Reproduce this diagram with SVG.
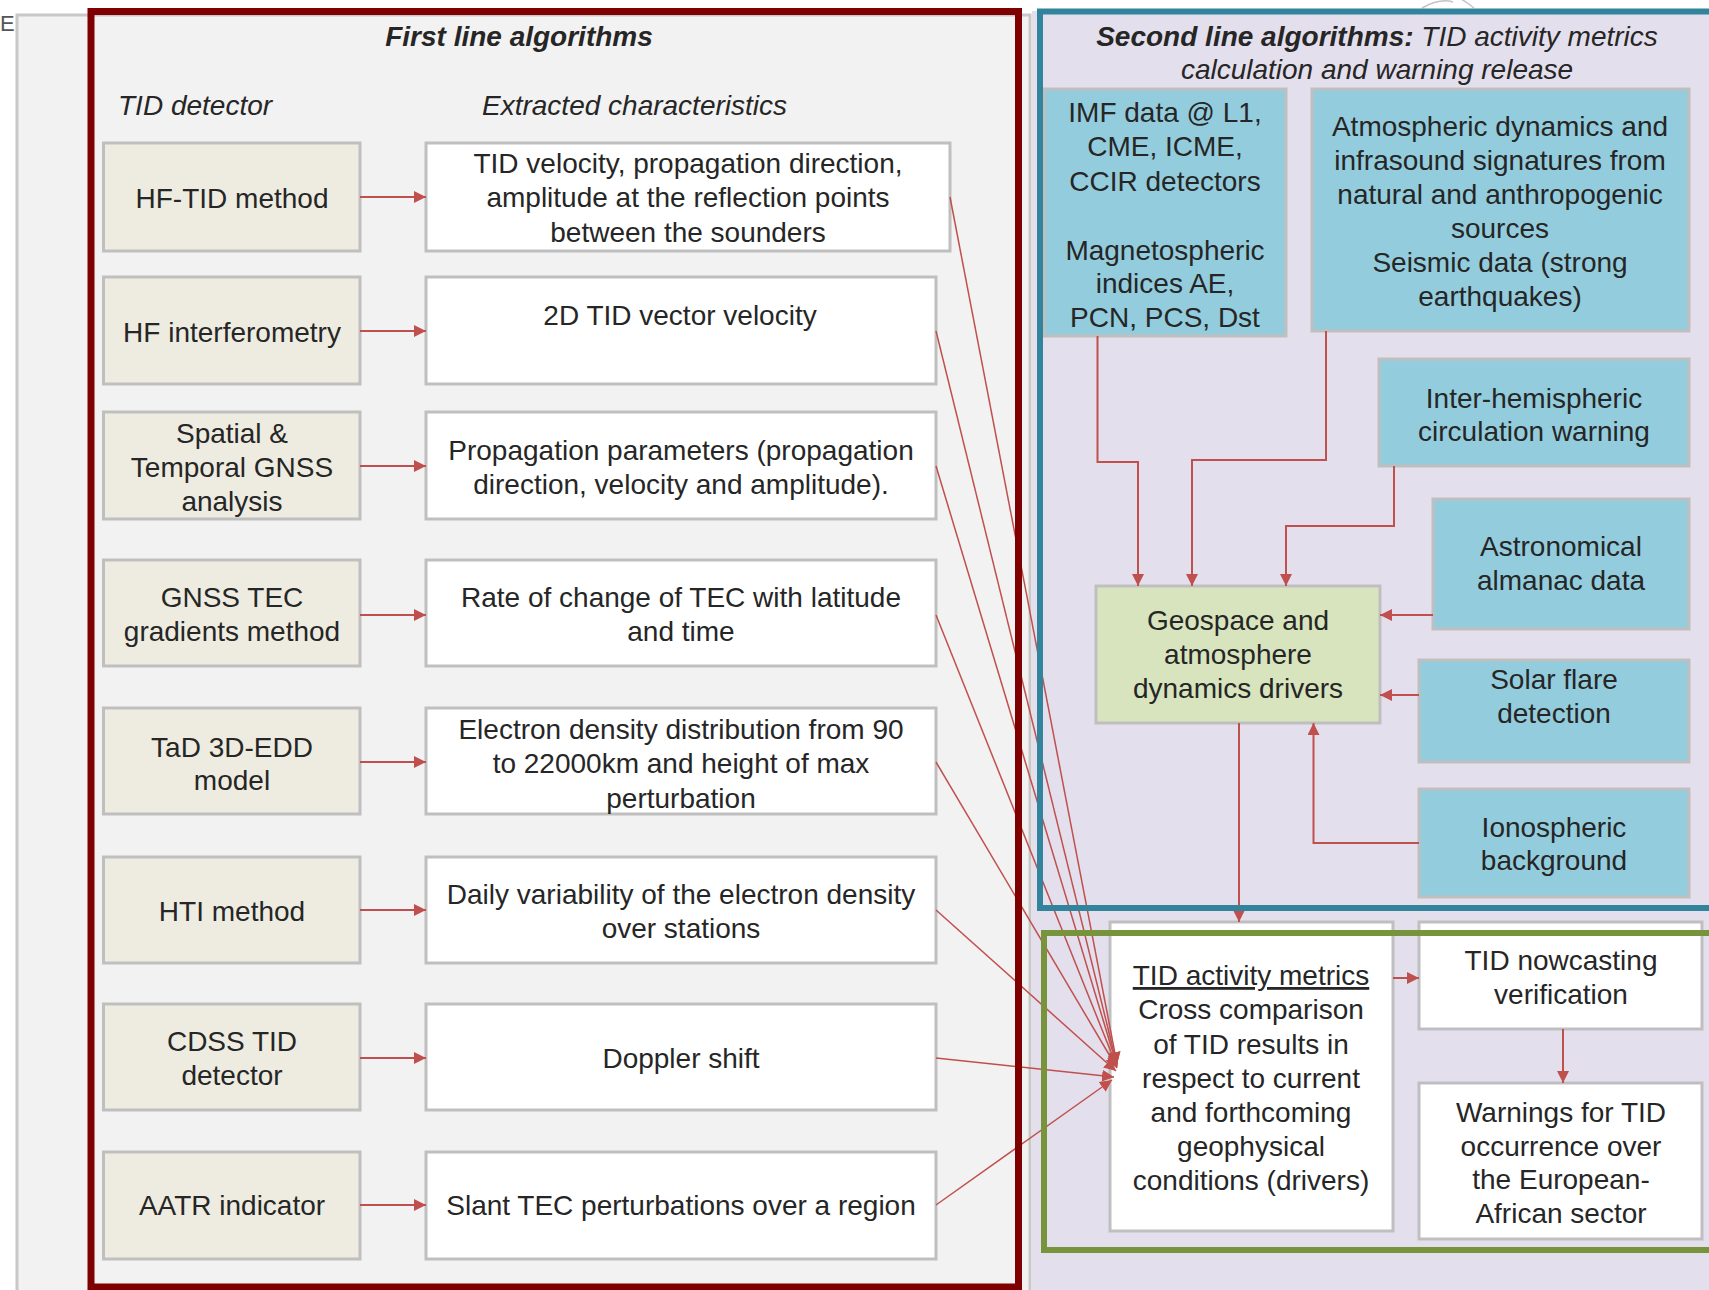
<svg xmlns="http://www.w3.org/2000/svg" width="1709" height="1290" viewBox="0 0 1709 1290">
<style>
text{font-family:"Liberation Sans",Arial,sans-serif;font-size:28px;fill:#262626;text-anchor:middle}
.it{font-style:italic}
.bi{font-style:italic;font-weight:bold}
.beige{fill:#eeece1;stroke:#bfbfbf;stroke-width:3}
.white{fill:#ffffff;stroke:#bfbfbf;stroke-width:3}
.blue{fill:#93cddd;stroke:#bfbfbf;stroke-width:3}
.green{fill:#d7e4bd;stroke:#bfbfbf;stroke-width:3}
.conn{fill:none;stroke:#c0504d;stroke-width:2}
.thin{fill:none;stroke:#c0504d;stroke-width:1.5}
</style>
<defs>
<marker id="ah" markerUnits="userSpaceOnUse" markerWidth="13" markerHeight="12" refX="12" refY="6" orient="auto">
<path d="M0,0 L12,6 L0,12 z" fill="#c0504d"/>
</marker>
</defs>
<rect width="1709" height="1290" fill="#ffffff"/>
<text x="0" y="31" style="fill:#555;text-anchor:start;font-size:22px">E</text>
<g id="panel-left">
<rect x="17" y="15" width="1013" height="1285" fill="#f2f2f2" stroke="#c8c8c8" stroke-width="3"/>
</g>
<g id="panel-right">
<rect x="1032" y="11" width="680" height="1285" fill="#e4dfec"/>
<path d="M1422,8 Q1440,-2 1453,2 M1474,8 Q1464,0 1457,-3" fill="none" stroke="#c4c4c4" stroke-width="1.5"/>
</g>
<g id="titles">
<text x="519" y="46" class="bi">First line algorithms</text>
<text x="118" y="115" class="it" style="text-anchor:start">TID detector</text>
<text x="482" y="115" class="it" style="text-anchor:start">Extracted characteristics</text>
<text x="1377" y="46"><tspan class="bi">Second line algorithms:</tspan><tspan class="it"> TID activity metrics</tspan></text>
<text x="1377" y="79" class="it">calculation and warning release</text>
</g>
<g id="detectors">
<g id="d1"><rect class="beige" x="103.5" y="143" width="256.5" height="108"/><text x="232" y="208">HF-TID method</text></g>
<g id="d2"><rect class="beige" x="103.5" y="277" width="256.5" height="107"/><text x="232" y="342">HF interferometry</text></g>
<g id="d3"><rect class="beige" x="103.5" y="412" width="256.5" height="107"/><text x="232" y="443">Spatial &amp;</text><text x="232" y="477">Temporal GNSS</text><text x="232" y="511">analysis</text></g>
<g id="d4"><rect class="beige" x="103.5" y="560" width="256.5" height="106"/><text x="232" y="607">GNSS TEC</text><text x="232" y="641">gradients method</text></g>
<g id="d5"><rect class="beige" x="103.5" y="708" width="256.5" height="106"/><text x="232" y="757">TaD 3D-EDD</text><text x="232" y="790">model</text></g>
<g id="d6"><rect class="beige" x="103.5" y="857" width="256.5" height="106"/><text x="232" y="921">HTI method</text></g>
<g id="d7"><rect class="beige" x="103.5" y="1004" width="256.5" height="106"/><text x="232" y="1051">CDSS TID</text><text x="232" y="1085">detector</text></g>
<g id="d8"><rect class="beige" x="103.5" y="1152" width="256.5" height="107"/><text x="232" y="1215">AATR indicator</text></g>
</g>
<g id="characteristics">
<g id="c1"><rect class="white" x="426" y="143" width="524" height="108"/><text x="688" y="173">TID velocity, propagation direction,</text><text x="688" y="207">amplitude at the reflection points</text><text x="688" y="242">between the sounders</text></g>
<g id="c2"><rect class="white" x="426" y="277" width="510" height="107"/><text x="680" y="325">2D TID vector velocity</text></g>
<g id="c3"><rect class="white" x="426" y="412" width="510" height="107"/><text x="681" y="460">Propagation parameters (propagation</text><text x="681" y="494">direction, velocity and amplitude).</text></g>
<g id="c4"><rect class="white" x="426" y="560" width="510" height="106"/><text x="681" y="607">Rate of change of TEC with latitude</text><text x="681" y="641">and time</text></g>
<g id="c5"><rect class="white" x="426" y="708" width="510" height="106"/><text x="681" y="739">Electron density distribution from 90</text><text x="681" y="773">to 22000km and height of max</text><text x="681" y="808">perturbation</text></g>
<g id="c6"><rect class="white" x="426" y="857" width="510" height="106"/><text x="681" y="904">Daily variability of the electron density</text><text x="681" y="938">over stations</text></g>
<g id="c7"><rect class="white" x="426" y="1004" width="510" height="106"/><text x="681" y="1068">Doppler shift</text></g>
<g id="c8"><rect class="white" x="426" y="1152" width="510" height="107"/><text x="681" y="1215">Slant TEC perturbations over a region</text></g>
</g>
<g id="second-line">
<g id="imf"><rect class="blue" x="1044" y="89" width="242" height="247"/><text x="1165" y="122">IMF data @ L1,</text><text x="1165" y="156">CME, ICME,</text><text x="1165" y="191">CCIR detectors</text><text x="1165" y="260">Magnetospheric</text><text x="1165" y="293">indices AE,</text><text x="1165" y="327">PCN, PCS, Dst</text></g>
<g id="atmo"><rect class="blue" x="1312" y="89" width="377" height="242"/><text x="1500" y="136">Atmospheric dynamics and</text><text x="1500" y="170">infrasound signatures from</text><text x="1500" y="204">natural and anthropogenic</text><text x="1500" y="238">sources</text><text x="1500" y="272">Seismic data (strong</text><text x="1500" y="306">earthquakes)</text></g>
<g id="inter"><rect class="blue" x="1379" y="359" width="310" height="107"/><text x="1534" y="408">Inter-hemispheric</text><text x="1534" y="441">circulation warning</text></g>
<g id="astro"><rect class="blue" x="1433" y="499" width="256" height="130"/><text x="1561" y="556">Astronomical</text><text x="1561" y="590">almanac data</text></g>
<g id="solar"><rect class="blue" x="1419" y="660" width="270" height="102"/><text x="1554" y="689">Solar flare</text><text x="1554" y="723">detection</text></g>
<g id="iono"><rect class="blue" x="1419" y="789" width="270" height="108"/><text x="1554" y="837">Ionospheric</text><text x="1554" y="870">background</text></g>
<g id="geo"><rect class="green" x="1096" y="586" width="284" height="137"/><text x="1238" y="630">Geospace and</text><text x="1238" y="664">atmosphere</text><text x="1238" y="698">dynamics drivers</text></g>
<g id="metrics"><rect class="white" x="1110" y="922" width="283" height="309"/><text x="1251" y="985" style="text-decoration:underline">TID activity metrics</text><text x="1251" y="1019">Cross comparison</text><text x="1251" y="1054">of TID results in</text><text x="1251" y="1088">respect to current</text><text x="1251" y="1122">and forthcoming</text><text x="1251" y="1156">geophysical</text><text x="1251" y="1190">conditions (drivers)</text></g>
<g id="nowcast"><rect class="white" x="1419" y="922" width="283" height="107"/><text x="1561" y="970">TID nowcasting</text><text x="1561" y="1004">verification</text></g>
<g id="warnings"><rect class="white" x="1419" y="1083" width="283" height="156"/><text x="1561" y="1122">Warnings for TID</text><text x="1561" y="1156">occurrence over</text><text x="1561" y="1189">the European-</text><text x="1561" y="1223">African sector</text></g>
</g>
<g id="connectors">
<line class="conn" x1="360" y1="197" x2="426" y2="197" marker-end="url(#ah)"/>
<line class="conn" x1="360" y1="331" x2="426" y2="331" marker-end="url(#ah)"/>
<line class="conn" x1="360" y1="466" x2="426" y2="466" marker-end="url(#ah)"/>
<line class="conn" x1="360" y1="615" x2="426" y2="615" marker-end="url(#ah)"/>
<line class="conn" x1="360" y1="762" x2="426" y2="762" marker-end="url(#ah)"/>
<line class="conn" x1="360" y1="910" x2="426" y2="910" marker-end="url(#ah)"/>
<line class="conn" x1="360" y1="1058" x2="426" y2="1058" marker-end="url(#ah)"/>
<line class="conn" x1="360" y1="1205" x2="426" y2="1205" marker-end="url(#ah)"/>
<line class="thin" x1="950" y1="197" x2="1117" y2="1064" marker-end="url(#ah)"/>
<line class="thin" x1="936" y1="331" x2="1117" y2="1065" marker-end="url(#ah)"/>
<line class="thin" x1="936" y1="466" x2="1117" y2="1066" marker-end="url(#ah)"/>
<line class="thin" x1="936" y1="615" x2="1117" y2="1067" marker-end="url(#ah)"/>
<line class="thin" x1="936" y1="762" x2="1117" y2="1068" marker-end="url(#ah)"/>
<line class="thin" x1="936" y1="910" x2="1116" y2="1071" marker-end="url(#ah)"/>
<line class="thin" x1="936" y1="1058" x2="1114" y2="1077" marker-end="url(#ah)"/>
<line class="thin" x1="936" y1="1205" x2="1112" y2="1080" marker-end="url(#ah)"/>
<polyline class="conn" points="1097.5,336 1097.5,462 1138,462 1138,586" marker-end="url(#ah)"/>
<polyline class="conn" points="1326,331 1326,460 1192,460 1192,586" marker-end="url(#ah)"/>
<polyline class="conn" points="1394,466 1394,526 1286,526 1286,586" marker-end="url(#ah)"/>
<line class="conn" x1="1433" y1="615" x2="1380" y2="615" marker-end="url(#ah)"/>
<line class="conn" x1="1419" y1="695" x2="1380" y2="695" marker-end="url(#ah)"/>
<polyline class="conn" points="1419,843 1313.5,843 1313.5,723" marker-end="url(#ah)"/>
<line class="conn" x1="1239" y1="723" x2="1239" y2="922" marker-end="url(#ah)"/>
<line class="conn" x1="1393" y1="978" x2="1419" y2="978" marker-end="url(#ah)"/>
<line class="conn" x1="1563" y1="1029" x2="1563" y2="1083" marker-end="url(#ah)"/>
</g>
<g id="frames">
<rect x="91" y="11.5" width="927.5" height="1275.5" fill="none" stroke="#7f0000" stroke-width="7"/>
<rect x="1040" y="11.5" width="690" height="896.5" fill="none" stroke="#31849b" stroke-width="6"/>
<rect x="1044" y="933" width="690" height="317" fill="none" stroke="#77933c" stroke-width="6"/>
</g>
</svg>
